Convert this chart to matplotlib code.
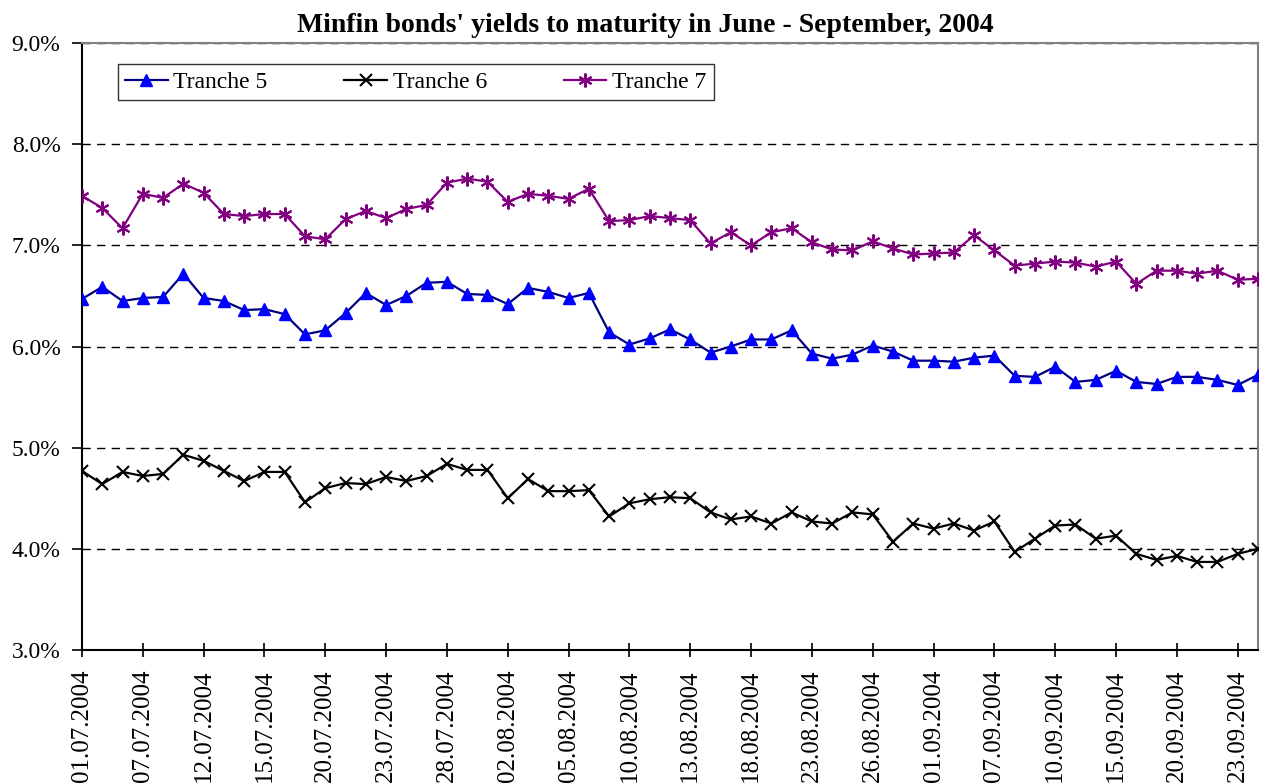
import matplotlib.pyplot as plt
from matplotlib.ticker import FuncFormatter, MultipleLocator

plt.rcParams['font.family'] = ['Liberation Serif', 'DejaVu Serif']

dates = [
    "01.07.2004", "02.07.2004", "06.07.2004", "07.07.2004", "08.07.2004", "09.07.2004",
    "12.07.2004", "13.07.2004", "14.07.2004", "15.07.2004", "16.07.2004", "19.07.2004",
    "20.07.2004", "21.07.2004", "22.07.2004", "23.07.2004", "26.07.2004", "27.07.2004",
    "28.07.2004", "29.07.2004", "30.07.2004", "02.08.2004", "03.08.2004", "04.08.2004",
    "05.08.2004", "06.08.2004", "09.08.2004", "10.08.2004", "11.08.2004", "12.08.2004",
    "13.08.2004", "16.08.2004", "17.08.2004", "18.08.2004", "19.08.2004", "20.08.2004",
    "23.08.2004", "24.08.2004", "25.08.2004", "26.08.2004", "27.08.2004", "31.08.2004",
    "01.09.2004", "02.09.2004", "03.09.2004", "07.09.2004", "08.09.2004", "09.09.2004",
    "10.09.2004", "13.09.2004", "14.09.2004", "15.09.2004", "16.09.2004", "17.09.2004",
    "20.09.2004", "21.09.2004", "22.09.2004", "23.09.2004", "24.09.2004",
]

tranche5 = [
    6.47, 6.59, 6.45, 6.48, 6.49, 6.72, 6.48, 6.45, 6.36, 6.37, 6.32, 6.12,
    6.16, 6.33, 6.53, 6.41, 6.50, 6.63, 6.64, 6.52, 6.51, 6.42, 6.58, 6.54,
    6.48, 6.53, 6.14, 6.02, 6.08, 6.17, 6.07, 5.94, 6.00, 6.07, 6.07, 6.16,
    5.93, 5.88, 5.92, 6.01, 5.95, 5.86, 5.86, 5.85, 5.89, 5.91, 5.71, 5.70,
    5.80, 5.65, 5.67, 5.76, 5.65, 5.63, 5.70, 5.70, 5.67, 5.62, 5.72,
]

tranche6 = [
    4.77, 4.64, 4.76, 4.72, 4.74, 4.93, 4.87, 4.77, 4.67, 4.76, 4.76, 4.46,
    4.60, 4.65, 4.64, 4.71, 4.67, 4.72, 4.84, 4.78, 4.78, 4.50, 4.69, 4.57,
    4.57, 4.58, 4.32, 4.45, 4.49, 4.51, 4.50, 4.36, 4.29, 4.32, 4.25, 4.36,
    4.27, 4.25, 4.36, 4.34, 4.07, 4.25, 4.20, 4.25, 4.18, 4.27, 3.97, 4.10,
    4.23, 4.24, 4.10, 4.13, 3.95, 3.89, 3.93, 3.87, 3.87, 3.95, 4.00,
]

tranche7 = [
    7.49, 7.37, 7.17, 7.51, 7.47, 7.61, 7.52, 7.31, 7.29, 7.31, 7.31, 7.09,
    7.06, 7.26, 7.34, 7.27, 7.36, 7.40, 7.62, 7.66, 7.63, 7.43, 7.51, 7.49,
    7.46, 7.56, 7.24, 7.25, 7.29, 7.27, 7.25, 7.02, 7.13, 7.00, 7.13, 7.17,
    7.03, 6.96, 6.95, 7.04, 6.97, 6.91, 6.92, 6.93, 7.10, 6.95, 6.80, 6.82,
    6.84, 6.83, 6.79, 6.84, 6.62, 6.75, 6.75, 6.72, 6.75, 6.66, 6.67,
]

x = list(range(len(dates)))

fig = plt.figure(figsize=(12.61, 7.84), dpi=100)
ax = fig.add_axes([0.065, 0.171, 0.9326, 0.774])

ax.plot(x, tranche5, color='#000080', lw=1.6, marker='^', ms=9,
        mfc='#0000FF', mec='#0000FF', label='Tranche 5', zorder=3)
ax.plot(x, tranche6, color='black', lw=1.6, marker='x', ms=9, mew=1.5,
        label='Tranche 6', zorder=3)
ax.plot(x, tranche7, color='#800080', lw=1.6, marker=(6, 2, 0), ms=10, mew=1.5,
        mec='#800080', label='Tranche 7', zorder=3)

ax.set_xlim(0, len(dates) - 1)
ax.set_ylim(3, 9)
ax.yaxis.set_major_locator(MultipleLocator(1))
ax.yaxis.set_major_formatter(FuncFormatter(lambda v, p: f'{v:.1f}%'))
ax.set_xticks(x[::3])
ax.set_xticklabels(dates[::3], rotation=90)

ax.grid(axis='y', color='black', linestyle=(0, (6, 4.5)), lw=1)
ax.tick_params(axis='x', direction='inout', length=10, width=1.2,
               labelsize=18, pad=9)
ax.tick_params(axis='y', direction='out', length=7, width=1.2,
               labelsize=17, pad=8.5)

for side in ('left', 'bottom'):
    ax.spines[side].set_color('black')
    ax.spines[side].set_linewidth(1.5)
for side in ('top', 'right'):
    ax.spines[side].set_color('#808080')
    ax.spines[side].set_linewidth(1.5)

fig.text(0.5115, 0.959,
         "Minfin bonds' yields to maturity in June - September, 2004",
         ha='center', va='baseline', fontsize=20, fontweight='bold')

leg = ax.legend(loc='upper left', bbox_to_anchor=(0.0306, 0.965), ncol=3,
                fontsize=17, frameon=True, fancybox=False, borderaxespad=0,
                handlelength=1.8, handletextpad=0.25, columnspacing=3.25,
                borderpad=0.3)
leg.get_frame().set_edgecolor('black')
leg.get_frame().set_linewidth(1.0)

fig.savefig('out.png', dpi=100)
